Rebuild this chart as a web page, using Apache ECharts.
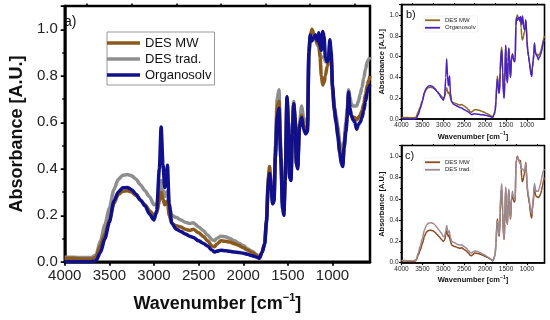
<!DOCTYPE html>
<html>
<head>
<meta charset="utf-8">
<script src="https://cdn.jsdelivr.net/npm/echarts@6/dist/echarts.min.js"></script>
<style>
html,body{margin:0;padding:0;background:#fff;}
#c{width:550px;height:320px;}
</style>
</head>
<body>
<div id="c"></div>
<script>
// Wavenumbers (cm^-1), shared by all spectra
const wn = [4000,3900,3800,3700,3650,3600,3550,3500,3450,3400,3350,3300,3250,3200,3150,3100,3050,3000,2970,2940,2920,2900,2880,2860,2850,2830,2800,2750,2700,2650,2600,2560,2500,2450,2400,2350,2320,2300,2250,2200,2150,2100,2050,2000,1950,1900,1850,1820,1790,1760,1740,1720,1705,1690,1670,1655,1640,1620,1600,1580,1560,1545,1530,1510,1495,1480,1465,1450,1435,1420,1405,1390,1370,1345,1325,1300,1280,1265,1250,1230,1210,1190,1170,1155,1140,1125,1110,1095,1080,1060,1045,1030,1015,1000,980,960,940,920,900,885,870,850,835,820,805,790,770,750,730,710,690,670,650,630,610,595,580];

const desMW = [0.015,0.015,0.012,0.012,0.02,0.07,0.12,0.18,0.25,0.29,0.303,0.305,0.30,0.285,0.265,0.245,0.22,0.20,0.21,0.26,0.30,0.27,0.245,0.26,0.26,0.20,0.165,0.155,0.15,0.14,0.135,0.14,0.125,0.11,0.09,0.068,0.065,0.075,0.09,0.088,0.085,0.078,0.07,0.06,0.05,0.04,0.028,0.016,0.04,0.08,0.18,0.36,0.41,0.34,0.25,0.27,0.47,0.66,0.69,0.47,0.25,0.22,0.36,0.70,0.60,0.37,0.36,0.55,0.68,0.62,0.43,0.41,0.59,0.63,0.59,0.57,0.58,0.89,0.97,1.0,0.98,0.96,0.94,0.96,0.88,0.80,0.76,0.77,0.80,0.84,0.86,0.94,0.88,0.74,0.65,0.60,0.55,0.48,0.43,0.42,0.50,0.57,0.63,0.72,0.66,0.63,0.62,0.62,0.61,0.62,0.63,0.65,0.68,0.72,0.76,0.78,0.80];

const desTrad = [0.02,0.02,0.018,0.018,0.03,0.09,0.16,0.23,0.31,0.355,0.372,0.375,0.37,0.355,0.33,0.305,0.28,0.245,0.25,0.30,0.35,0.31,0.28,0.30,0.30,0.24,0.20,0.19,0.18,0.17,0.165,0.168,0.15,0.135,0.115,0.095,0.09,0.10,0.11,0.108,0.10,0.09,0.08,0.07,0.055,0.045,0.03,0.017,0.04,0.08,0.18,0.34,0.39,0.35,0.26,0.28,0.50,0.70,0.74,0.50,0.25,0.22,0.37,0.71,0.61,0.38,0.37,0.56,0.69,0.63,0.44,0.42,0.60,0.67,0.62,0.60,0.60,0.88,0.96,0.99,0.98,0.96,0.93,0.94,0.89,0.88,0.88,0.88,0.86,0.86,0.87,0.93,0.87,0.75,0.67,0.63,0.58,0.52,0.47,0.46,0.52,0.60,0.66,0.74,0.71,0.68,0.67,0.67,0.67,0.69,0.72,0.75,0.79,0.83,0.86,0.87,0.88];

const organosolv = [0,0,0,0,0.005,0.04,0.10,0.17,0.26,0.30,0.318,0.32,0.31,0.29,0.265,0.24,0.205,0.18,0.22,0.40,0.58,0.42,0.32,0.38,0.415,0.25,0.165,0.14,0.13,0.12,0.11,0.105,0.09,0.08,0.068,0.05,0.042,0.045,0.05,0.048,0.045,0.042,0.04,0.037,0.032,0.026,0.02,0.015,0.04,0.075,0.17,0.33,0.38,0.33,0.25,0.26,0.45,0.62,0.66,0.45,0.23,0.20,0.35,0.71,0.60,0.36,0.35,0.55,0.68,0.62,0.42,0.40,0.58,0.62,0.57,0.55,0.56,0.90,0.975,0.95,0.965,0.975,0.95,0.985,0.93,0.91,0.99,0.97,0.88,0.86,0.87,0.955,0.90,0.76,0.66,0.60,0.54,0.47,0.42,0.41,0.49,0.56,0.62,0.73,0.66,0.63,0.61,0.60,0.57,0.59,0.60,0.62,0.65,0.69,0.73,0.75,0.76];

const xTicks = [4000,3500,3000,2500,2000,1500,1000];
const xMinorTicks = [3750,3250,2750,2250,1750,1250,750];
const seriesNames = ['DES MW','DES trad.','Organosolv'];
const panelLabels = ['a)','b)','c)'];
const xTitle = 'Wavenumber [cm';
const xTitleSup = '−1';
const yTitle = 'Absorbance [A.U.]';

const pairs = arr => wn.map((w,i)=>[w,arr[i]]);

const chart = echarts.init(document.getElementById('c'), null, {renderer:'canvas'});

const grids = [
  {left:53, right:180, top:6, bottom:58.2, lw:2.5, lab:15, nm:18, sup:11, tick:4, minor:2.5, gapX:31, gapY:31, labM:7},
  {left:401.5, right:5.5, top:4.6, bottom:201, lw:1.6, lab:6.5, nm:7.5, sup:5, tick:2.5, minor:1.5, gapX:12, gapY:14, labM:3},
  {left:401.5, right:5.5, top:145.5, bottom:57.3, lw:1.6, lab:6.5, nm:7.5, sup:5, tick:2.5, minor:1.5, gapX:12, gapY:14, labM:3}
];

const xAxes = [], yAxes = [];
grids.forEach((g,i)=>{
  xAxes.push({
    type:'value', gridIndex:i, min:580, max:4000, inverse:true,
    name:'{a|'+xTitle+'}{s|'+xTitleSup+'}{a|]}', nameLocation:'middle', nameGap:g.gapX,
    nameTextStyle:{rich:{
      a:{fontSize:g.nm, fontWeight:'bold', color:'#111', fontFamily:'Liberation Sans, Arial', verticalAlign:'bottom', lineHeight:g.nm+2},
      s:{fontSize:g.sup, fontWeight:'bold', color:'#111', fontFamily:'Liberation Sans, Arial', verticalAlign:'top', lineHeight:g.nm+2}
    }},
    axisLine:{show:true, lineStyle:{color:'#000', width:g.lw}},
    axisTick:{show:true, customValues:xTicks, length:g.tick, lineStyle:{color:'#000', width:g.lw*0.7}},
    axisLabel:{customValues:xTicks, fontSize:g.lab, color:'#222', margin:g.labM, fontFamily:'Liberation Sans, Arial',
      formatter:v=>String(v)},
    splitLine:{show:false}
  });
  xAxes.push({
    type:'value', gridIndex:i, min:580, max:4000, inverse:true,
    axisLine:{show:false},
    axisTick:{show:true, customValues:xMinorTicks, length:g.minor, lineStyle:{color:'#000', width:g.lw*0.6}},
    axisLabel:{show:false}, splitLine:{show:false}
  });
  yAxes.push({
    type:'value', gridIndex:i, min:0, max:1.1, interval:0.2,
    name:yTitle, nameLocation:'middle', nameGap:g.gapY, nameRotate:90,
    nameTextStyle:{fontSize:g.nm, fontWeight:'bold', color:'#111', fontFamily:'Liberation Sans, Arial'},
    axisLine:{show:true, lineStyle:{color:'#000', width:g.lw}},
    axisTick:{show:true, length:g.tick, lineStyle:{color:'#000', width:g.lw*0.7}},
    minorTick:{show:true, splitNumber:2, length:g.minor, lineStyle:{color:'#000', width:g.lw*0.6}},
    axisLabel:{fontSize:g.lab, color:'#222', margin:g.labM, showMaxLabel:false, fontFamily:'Liberation Sans, Arial',
      formatter:v=>v.toFixed(1)},
    splitLine:{show:false}
  });
});

const C = {
  a:{mw:'#8a5a1c', trad:'#8e8e8e', org:'#10108c'},
  b:{mw:'#8a6a22', org:'#4a22c4'},
  c:{mw:'#8b4a22', trad:'#9c8a90'}
};

const mk = (name, data, gi, color, width, z) => ({
  type:'line', name, data:pairs(data), xAxisIndex:gi*2, yAxisIndex:gi,
  symbol:'none', smooth:0.25, smoothMonotone:'x', z,
  lineStyle:{color, width}, itemStyle:{color}
});

const series = [
  mk(seriesNames[1], desTrad, 0, C.a.trad, 3.5, 2),
  mk(seriesNames[0], desMW, 0, C.a.mw, 3.5, 3),
  mk(seriesNames[2], organosolv, 0, C.a.org, 3.5, 4),
  mk(seriesNames[0], desMW, 1, C.b.mw, 1.5, 2),
  mk(seriesNames[2], organosolv, 1, C.b.org, 1.5, 3),
  mk(seriesNames[0], desMW, 2, C.c.mw, 1.5, 2),
  mk(seriesNames[1], desTrad, 2, C.c.trad, 1.5, 3)
];

const legItem = (name,color) => ({name, icon:'rect', itemStyle:{color, borderWidth:0}});

const option = {
  animation:false,
  backgroundColor:'#fff',
  grid: grids.map(g=>({left:g.left, right:g.right, top:g.top, bottom:g.bottom, show:true, borderColor:'#000', borderWidth:g.lw, containLabel:false})),
  xAxis: xAxes,
  yAxis: yAxes,
  legend:[
    {left:107, top:32, orient:'vertical', itemWidth:33, itemHeight:3.5, itemGap:2, padding:[4,3,3,0],
     borderColor:'#999', borderWidth:1, textStyle:{fontSize:13, lineHeight:14, color:'#111', fontFamily:'Liberation Sans, Arial'},
     data:[legItem(seriesNames[0],C.a.mw), legItem(seriesNames[1],C.a.trad), legItem(seriesNames[2],C.a.org)]},
    {left:424, top:16, orient:'vertical', itemWidth:15, itemHeight:1.8, itemGap:1, padding:[1,2,1,1],
     borderColor:'#e4e4e4', borderWidth:0.5, textStyle:{fontSize:6, lineHeight:6.5, color:'#222', fontFamily:'Liberation Sans, Arial'},
     data:[legItem(seriesNames[0],C.b.mw), legItem(seriesNames[2],C.b.org)]},
    {left:424, top:158, orient:'vertical', itemWidth:15, itemHeight:1.8, itemGap:1, padding:[1,2,1,1],
     borderColor:'#e4e4e4', borderWidth:0.5, textStyle:{fontSize:6, lineHeight:6.5, color:'#222', fontFamily:'Liberation Sans, Arial'},
     data:[legItem(seriesNames[0],C.c.mw), legItem(seriesNames[1],C.c.trad)]}
  ],
  graphic:[
    {type:'text', left:64, top:15, style:{text:panelLabels[0], fontSize:14, fill:'#111', fontFamily:'Liberation Sans, Arial'}},
    {type:'text', left:406, top:9, style:{text:panelLabels[1], fontSize:11, fill:'#111', fontFamily:'Liberation Sans, Arial'}},
    {type:'text', left:405, top:150, style:{text:panelLabels[2], fontSize:11, fill:'#111', fontFamily:'Liberation Sans, Arial'}}
  ],
  series
};
chart.setOption(option);
</script>
</body>
</html>
